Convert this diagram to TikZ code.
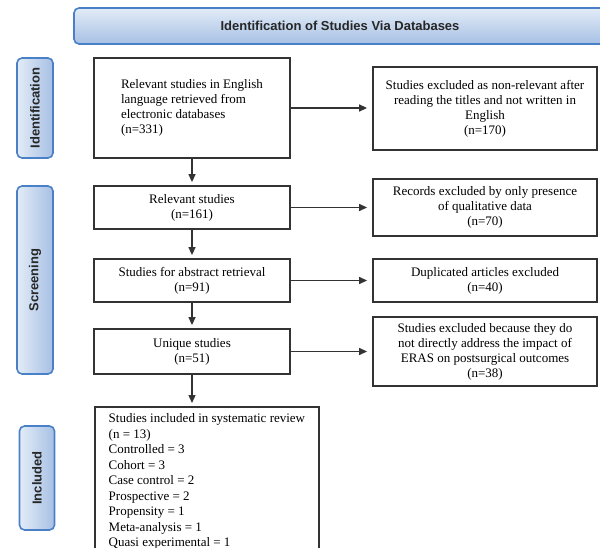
\documentclass[tikz,border=0pt]{standalone}
\usepackage{fontspec}
\setmainfont{Liberation Serif}
\setsansfont{Liberation Sans}
\usetikzlibrary{arrows.meta,shadings}

\definecolor{barline}{HTML}{4A80C8}
\definecolor{barlight}{HTML}{E2ECF7}
\definecolor{bardark}{HTML}{A7C0E4}
\definecolor{boxline}{HTML}{333333}

\tikzset{
	box/.style={draw=boxline, line width=1.8pt, rectangle, inner sep=0pt, align=center, font=\fontsize{13}{15}\selectfont},
	sidebar/.style={draw=barline, line width=1.6pt, rounded corners=5pt, left color=barlight, right color=bardark},
	sidelabel/.style={rotate=90, font=\sffamily\bfseries\fontsize{13}{15}\selectfont, text=black!85},
	arr/.style={draw=boxline, line width=1.3pt, -{Triangle[length=8pt,width=7pt]}}
}

\begin{document}
\begin{tikzpicture}[x=1pt, y=-1pt]
	\clip (0,0) rectangle (600,548);
	\useasboundingbox (0,0) rectangle (600,548);

	% header and phase bars
	\node[draw=barline, line width=1.6pt, rounded corners=5pt, top color=barlight, bottom color=bardark, minimum width=532pt, minimum height=36pt, font=\sffamily\bfseries\fontsize{13}{15}\selectfont, text=black!85] (head) at (340,26) {Identification of Studies Via Databases};
	\node[sidebar, minimum width=36pt, minimum height=100pt] (idbar) at (35,108) {};
	\node[sidelabel] at (idbar) {Identification};
	\node[sidebar, minimum width=36pt, minimum height=188pt] (scbar) at (35,280) {};
	\node[sidelabel] at (scbar) {Screening};
	\node[sidebar, minimum width=35pt, minimum height=104pt] (inbar) at (37,478) {};
	\node[sidelabel] at (inbar) {Included};

	% main column
	\node[box, align=left, minimum width=196pt, minimum height=100pt] (rel) at (192,108) {Relevant studies in English\\language retrieved from\\electronic databases\\(n=331)};
	\node[box, minimum width=196pt, minimum height=43pt] (rel2) at (192,207.5) {Relevant studies\\(n=161)};
	\node[box, minimum width=196pt, minimum height=43pt] (abst) at (192,280.5) {Studies for abstract retrieval\\(n=91)};
	\node[box, minimum width=196pt, minimum height=45pt] (uniq) at (192,351.5) {Unique studies\\(n=51)};
	\node[box, anchor=north west, align=left, minimum width=224pt, inner ysep=7pt, font=\fontsize{13}{15.5}\selectfont] (incl) at (94,406) {Studies included in systematic review\\(n = 13)\\Controlled = 3\\Cohort = 3\\Case control = 2\\Prospective = 2\\Propensity = 1\\Meta-analysis = 1\\Quasi experimental = 1};

	% excluded column
	\node[box, minimum width=224pt, minimum height=83pt] (exc1) at (485,108.5) {Studies excluded as non-relevant after\\reading the titles and not written in\\English\\(n=170)};
	\node[box, minimum width=224pt, minimum height=57pt] (exc2) at (485,207.5) {Records excluded by only presence\\of qualitative data\\(n=70)};
	\node[box, minimum width=224pt, minimum height=43pt] (exc3) at (485,280.5) {Duplicated articles excluded\\(n=40)};
	\node[box, minimum width=224pt, minimum height=69pt] (exc4) at (485,351.5) {Studies excluded because they do\\not directly address the impact of\\ERAS on postsurgical outcomes\\(n=38)};

	% arrows
	\foreach \a/\b in {rel/rel2, rel2/abst, abst/uniq}
		\draw[arr, shorten >=3pt] (\a.south) -- (\b.north);
	\draw[arr, shorten >=3pt] (uniq.south) -- (uniq.south |- incl.north);
	\foreach \a/\b in {rel/exc1, rel2/exc2, abst/exc3, uniq/exc4}
		\draw[arr, shorten >=5pt] (\a.east) -- (\a.east -| \b.west);
\end{tikzpicture}
\end{document}
